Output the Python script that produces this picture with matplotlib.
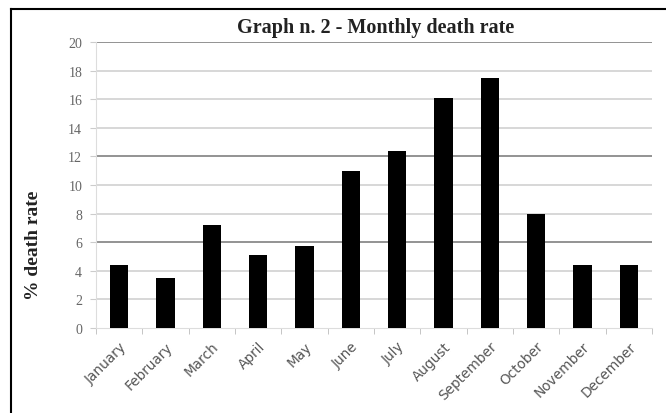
import matplotlib.pyplot as plt
from matplotlib.lines import Line2D

months = ["January", "February", "March", "April", "May", "June", "July",
          "August", "September", "October", "November", "December"]
death_rate = [4.4, 3.5, 7.2, 5.1, 5.7, 11.0, 12.4, 16.1, 17.5, 8.0, 4.4, 4.4]
y_ticks = [0, 2, 4, 6, 8, 10, 12, 14, 16, 18, 20]
dark_grid = [6, 12, 20]

W, H = 666, 414
fig = plt.figure(figsize=(W / 100, H / 100), dpi=100)
ax = fig.add_axes([96 / W, 1 - 329 / H, 556 / W, 286 / H])

# grid lines, a few drawn darker like the scanned original
for v in y_ticks[1:]:
    c = "#8a8a8a" if v in dark_grid else "#d4d4d4"
    ax.axhline(v, color=c, lw=1.3, zorder=1)

x = range(len(months))
ax.bar(x, death_rate, width=0.39, color="black", zorder=3)

ax.set_xlim(-0.5, len(months) - 0.5)
ax.set_ylim(0, 20)
ax.set_yticks(y_ticks)
ax.set_yticklabels([str(v) for v in y_ticks], fontsize=10, color="#666666",
                   family="Liberation Serif")
ax.set_xticks(list(x))
ax.set_xticklabels(months, rotation=45, ha="right", rotation_mode="anchor",
                   fontsize=9.8, color="#555555")
ax.tick_params(axis="x", length=0, pad=8)
ax.tick_params(axis="y", length=4, color="#cccccc", pad=6)
# minor ticks between categories on the x axis
ax.set_xticks([i + 0.5 for i in range(-1, len(months))], minor=True)
ax.tick_params(axis="x", which="minor", length=4, color="#bbbbbb")

for s in ["top", "right"]:
    ax.spines[s].set_visible(False)
ax.spines["left"].set_color("#dddddd")
ax.spines["bottom"].set_color("#dddddd")

fig.text(376 / W, 1 - 28 / H, "Graph n. 2 - Monthly death rate", ha="center",
         va="center", fontsize=14.5, fontweight="bold", family="Liberation Serif",
         color="#222222")
fig.text(34 / W, 1 - 245 / H, "% death rate", rotation=90, ha="center", va="center",
         fontsize=14, fontweight="bold", family="Liberation Serif", color="#222222")

# black frame on the top and left edges
fig.add_artist(Line2D([11 / W, 1], [1 - 10 / H, 1 - 10 / H], color="black", lw=1.5))
fig.add_artist(Line2D([11 / W, 11 / W], [0, 1 - 10 / H], color="black", lw=1.5))

fig.savefig("out.png", dpi=100)
